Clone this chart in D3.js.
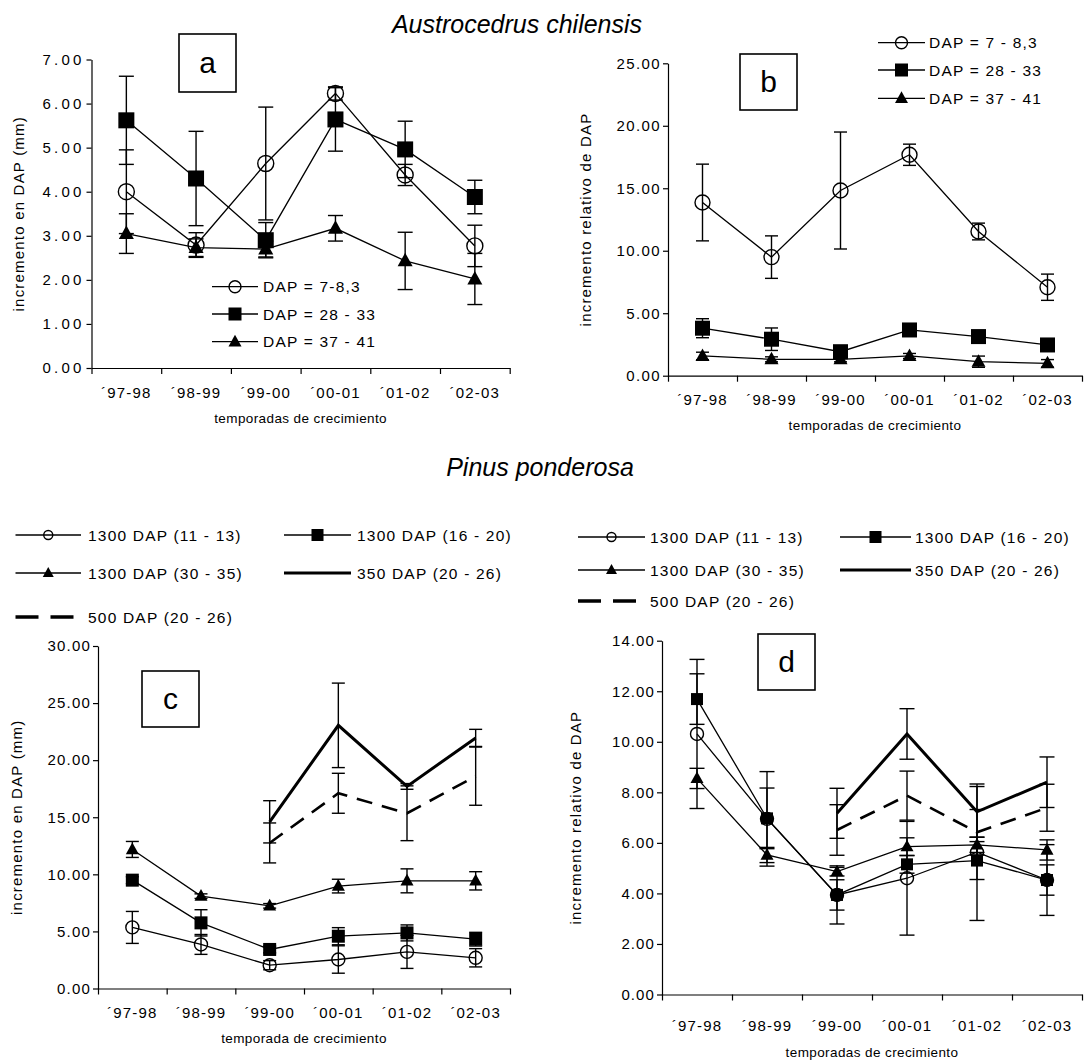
<!DOCTYPE html>
<html><head><meta charset="utf-8">
<script src="https://cdn.jsdelivr.net/npm/d3@7"></script>
<style>
body{margin:0;background:#fff}
svg{display:block}
text{font-family:"Liberation Sans",Arial,sans-serif;fill:#000}
</style>
</head><body>
<svg id="chart" width="1085" height="1061"></svg>
<script>
// ---------- DATA ----------
const categories = ["´97-98","´98-99","´99-00","´00-01","´01-02","´02-03"];

// Panel a : Austrocedrus, incremento en DAP (mm)
const aCircle = [4.00, 2.79, 4.64, 6.23, 4.38, 2.77];
const aCircleErr = [0.95, 0.28, 1.28, 0.15, 0.24, 0.47];
const aSquare = [5.62, 4.30, 2.90, 5.64, 4.96, 3.88];
const aSquareErr = [1.00, 1.07, 0.40, 0.72, 0.64, 0.38];
const aTri = [3.05, 2.73, 2.70, 3.17, 2.43, 2.02];
const aTriErr = [0.45, 0.20, 0.18, 0.29, 0.65, 0.58];

// Panel b : Austrocedrus, incremento relativo de DAP
const bCircle = [13.86, 9.49, 14.82, 17.68, 11.54, 7.08];
const bCircleErr = [3.07, 1.70, 4.68, 0.85, 0.67, 1.05];
const bSquare = [3.80, 2.92, 1.92, 3.66, 3.13, 2.46];
const bSquareErr = [0.76, 0.90, 0.30, 0.30, 0.30, 0.30];
const bTri = [1.58, 1.31, 1.31, 1.58, 1.12, 0.99];
const bTriErr = [0.30, 0.20, 0.20, 0.20, 0.45, 0.30];

// Panel c : Pinus, incremento en DAP (mm)
const cCircle = [5.35, 3.86, 2.04, 2.54, 3.21, 2.69];
const cCircleErr = [1.40, 0.87, 0.40, 1.20, 1.45, 0.80];
const cSquare = [9.49, 5.75, 3.42, 4.58, 4.87, 4.32];
const cSquareErr = [0.30, 1.15, 0.30, 0.75, 0.70, 0.60];
const cTri = [12.18, 8.09, 7.24, 8.97, 9.43, 9.43];
const cTriErr = [0.70, 0.20, 0.20, 0.60, 1.05, 0.80];
const c350 = [null, null, 14.60, 23.05, 17.70, 21.95];
const c350Err = [null, null, 1.85, 3.70, 0.25, 0.75];
const c500 = [null, null, 12.75, 17.10, 15.35, 18.60];
const c500Err = [null, null, 1.75, 1.75, 2.40, 2.55];

// Panel d : Pinus, incremento relativo de DAP
const dCircle = [10.31, 6.95, 3.94, 4.60, 5.63, 4.53];
const dCircleErr = [2.95, 1.87, 1.15, 2.25, 2.70, 1.40];
const dSquare = [11.69, 6.97, 3.94, 5.15, 5.30, 4.53];
const dSquareErr = [1.00, 1.20, 0.60, 0.35, 0.75, 0.60];
const dTri = [8.55, 5.52, 4.86, 5.85, 5.92, 5.72];
const dTriErr = [0.40, 0.30, 0.17, 0.35, 0.30, 0.40];
const d350 = [null, null, 7.17, 10.31, 7.23, 8.40];
const d350Err = [null, null, 0.99, 1.00, 1.00, 1.00];
const d500 = [null, null, 6.51, 7.87, 6.42, 7.39];
const d500Err = [null, null, 1.00, 0.97, 0.90, 0.93];

const aTicks = [0,1,2,3,4,5,6,7];
const bTicks = [0,5,10,15,20,25];
const cTicks = [0,5,10,15,20,25,30];
const dTicks = [0,2,4,6,8,10,12,14];

const austroLegend = [["DAP = 7-8,3","circle"],["DAP = 28 - 33","square"],["DAP = 37 - 41","triangle"]];
const austroLegendB = [["DAP = 7 - 8,3","circle"],["DAP = 28 - 33","square"],["DAP = 37 - 41","triangle"]];
const pinusLegend = [["1300 DAP (11 - 13)","circle"],["1300 DAP (16 - 20)","square"],
                     ["1300 DAP (30 - 35)","triangle"],["350 DAP (20 - 26)","thick"],
                     ["500 DAP (20 - 26)","dash"]];

// ---------- DRAW ----------
const svg = d3.select("#chart");
const fmt = d3.format(".2f");

function triPath(s){
  const h = s*0.9;
  return `M0,${-h*0.6}L${s/2},${h*0.4}L${-s/2},${h*0.4}Z`;
}
function drawMarker(g, type, cx, cy, sz){
  if(type==="circle"){
    g.append("circle").attr("cx",cx).attr("cy",cy).attr("r",sz.r)
      .attr("fill","none").attr("stroke","#000").attr("stroke-width",1.4);
  } else if(type==="square"){
    g.append("rect").attr("x",cx-sz.sq/2).attr("y",cy-sz.sq/2)
      .attr("width",sz.sq).attr("height",sz.sq).attr("fill","#000");
  } else if(type==="triangle"){
    g.append("path").attr("d",triPath(sz.tri)).attr("transform",`translate(${cx},${cy})`).attr("fill","#000");
  }
}

function panel(cfg){
  const g = svg.append("g");
  const x = d3.scaleBand().domain(categories).range([cfg.x0,cfg.x1]).padding(0);
  const xb = d3.scaleLinear().domain([0,categories.length]).range([cfg.x0,cfg.x1]);
  const y = d3.scaleLinear().domain([0,cfg.max]).range([cfg.y0,cfg.yTop]);
  const cx = c => x(c)+x.bandwidth()/2;

  // y axis
  const ya = g.append("g").attr("transform",`translate(${cfg.x0},0)`)
    .call(d3.axisLeft(y).tickValues(cfg.ticks).tickFormat(fmt).tickSize(5).tickSizeOuter(0));
  ya.select(".domain").attr("stroke","#000").attr("stroke-width",1.2);
  ya.selectAll(".tick line").attr("stroke","#000").attr("stroke-width",1.2);
  ya.selectAll(".tick text").attr("font-size",15).attr("letter-spacing",cfg.yls)
    .attr("x",-7).attr("font-family",'"Liberation Sans",Arial,sans-serif');

  // x axis: boundary ticks
  const xa = g.append("g").attr("transform",`translate(0,${cfg.y0})`)
    .call(d3.axisBottom(xb).tickValues(d3.range(0,categories.length+1)).tickFormat("").tickSize(6).tickSizeOuter(0));
  xa.select(".domain").attr("stroke","#000").attr("stroke-width",1.2);
  xa.selectAll(".tick line").attr("stroke","#000").attr("stroke-width",1.2);
  // category labels
  const xl = g.append("g").attr("transform",`translate(0,${cfg.y0})`)
    .call(d3.axisBottom(x).tickSize(0).tickPadding(cfg.labOff));
  xl.select(".domain").remove();
  xl.selectAll(".tick text").attr("font-size",15).attr("letter-spacing",1.2)
    .attr("font-family",'"Liberation Sans",Arial,sans-serif');

  // axis titles
  g.append("text").attr("x",(cfg.x0+cfg.x1)/2).attr("y",cfg.xTitleY)
    .attr("text-anchor","middle").attr("font-size",13.5).attr("letter-spacing",0.4)
    .text(cfg.xTitle);
  g.append("text").attr("transform",`translate(${cfg.yTitleX},${(cfg.y0+cfg.yTop)/2}) rotate(-90)`)
    .attr("text-anchor","middle").attr("font-size",15).attr("letter-spacing",1.2)
    .text(cfg.yTitle);

  // letter box
  g.append("rect").attr("x",cfg.box[0]).attr("y",cfg.box[1]).attr("width",cfg.box[2]).attr("height",cfg.box[3])
    .attr("fill","#fff").attr("stroke","#000").attr("stroke-width",1.6);
  g.append("text").attr("x",cfg.box[0]+cfg.box[2]/2).attr("y",cfg.box[1]+cfg.box[3]/2+10)
    .attr("text-anchor","middle").attr("font-size",30).text(cfg.letter);

  const sz = cfg.sz;
  cfg.series.forEach(s=>{
    const pts = categories.map((c,i)=>({c, v:s.vals[i], e:s.err[i]})).filter(p=>p.v!=null);
    // error bars
    pts.forEach(p=>{
      const eg = g.append("g").attr("stroke","#000").attr("stroke-width",1.4);
      eg.append("line").attr("x1",cx(p.c)).attr("x2",cx(p.c)).attr("y1",y(p.v-p.e)).attr("y2",y(p.v+p.e));
      [p.v-p.e,p.v+p.e].forEach(v=>eg.append("line").attr("x1",cx(p.c)-sz.cap).attr("x2",cx(p.c)+sz.cap)
        .attr("y1",y(v)).attr("y2",y(v)));
    });
    // line
    g.append("path").datum(pts)
      .attr("d",d3.line().x(p=>cx(p.c)).y(p=>y(p.v)))
      .attr("fill","none").attr("stroke","#000").attr("stroke-width",s.w||1.3)
      .attr("stroke-dasharray",s.dash||null);
    // markers
    if(s.marker) pts.forEach(p=>drawMarker(g,s.marker,cx(p.c),y(p.v),sz));
  });
}

function legend(items, rows, sz, fontSize){
  items.forEach(([label,type],i)=>{
    const r = rows[i];
    const g = svg.append("g");
    if(type==="dash"){
      g.append("line").attr("x1",r.x1).attr("x2",r.x2).attr("y1",r.y).attr("y2",r.y)
        .attr("stroke","#000").attr("stroke-width",3.5).attr("stroke-dasharray","23,12");
    } else {
      g.append("line").attr("x1",r.x1).attr("x2",r.x2).attr("y1",r.y).attr("y2",r.y)
        .attr("stroke","#000").attr("stroke-width",type==="thick"?3:1.3);
      if(type!=="thick") drawMarker(g,type,(r.x1+r.x2)/2,r.y,sz);
    }
    g.append("text").attr("x",r.tx).attr("y",r.y+5.5).attr("font-size",fontSize)
      .attr("letter-spacing",1.2).text(label);
  });
}

// titles
svg.append("text").attr("x",517).attr("y",33).attr("text-anchor","middle")
  .attr("font-size",25).attr("font-style","italic").text("Austrocedrus chilensis");
svg.append("text").attr("x",540).attr("y",476).attr("text-anchor","middle")
  .attr("font-size",25).attr("font-style","italic").text("Pinus ponderosa");

panel({x0:91.5,x1:509.7,y0:368,yTop:59.5,max:7,ticks:aTicks,labOff:19,yls:3.2,
  xTitle:"temporadas de crecimiento",xTitleY:423,yTitle:"incremento en DAP (mm)",yTitleX:24,
  box:[179,34,57,58],letter:"a",sz:{r:8,sq:16,tri:15,cap:7.5},
  series:[{vals:aCircle,err:aCircleErr,marker:"circle"},
          {vals:aSquare,err:aSquareErr,marker:"square"},
          {vals:aTri,err:aTriErr,marker:"triangle"}]});

panel({x0:668,x1:1082,y0:375.7,yTop:63.3,max:25,ticks:bTicks,labOff:19,yls:1.4,
  xTitle:"temporadas de crecimiento",xTitleY:430,yTitle:"incremento relativo de DAP",yTitleX:591,
  box:[740,54,57,56],letter:"b",sz:{r:7.5,sq:15,tri:14,cap:6.5},
  series:[{vals:bCircle,err:bCircleErr,marker:"circle"},
          {vals:bSquare,err:bSquareErr,marker:"square"},
          {vals:bTri,err:bTriErr,marker:"triangle"}]});

panel({x0:98,x1:510,y0:988.5,yTop:646,max:30,ticks:cTicks,labOff:19,yls:1.2,
  xTitle:"temporada de crecimiento",xTitleY:1043,yTitle:"incremento en DAP (mm)",yTitleX:22,
  box:[142,671,57,56],letter:"c",sz:{r:6.5,sq:13,tri:13,cap:6.5},
  series:[{vals:cCircle,err:cCircleErr,marker:"circle"},
          {vals:cSquare,err:cSquareErr,marker:"square"},
          {vals:cTri,err:cTriErr,marker:"triangle"},
          {vals:c350,err:c350Err,marker:null,w:3},
          {vals:c500,err:c500Err,marker:null,w:2.6,dash:"16,10"}]});

panel({x0:662,x1:1082,y0:994.5,yTop:640.7,max:14,ticks:dTicks,labOff:26,yls:1.1,
  xTitle:"temporadas de crecimiento",xTitleY:1057,yTitle:"incremento relativo de DAP",yTitleX:581,
  box:[758,634,57,56],letter:"d",sz:{r:6.5,sq:12,tri:13,cap:7.5},
  series:[{vals:dCircle,err:dCircleErr,marker:"circle"},
          {vals:dSquare,err:dSquareErr,marker:"square"},
          {vals:dTri,err:dTriErr,marker:"triangle"},
          {vals:d350,err:d350Err,marker:null,w:3},
          {vals:d500,err:d500Err,marker:null,w:2.6,dash:"16,10"}]});

// legends
legend(austroLegend,[{x1:212,x2:258,tx:263,y:286.7},{x1:212,x2:258,tx:263,y:314},{x1:212,x2:258,tx:263,y:341.7}],
  {r:6,sq:13,tri:13},15.5);
legend(austroLegendB,[{x1:878,x2:925,tx:929,y:42.7},{x1:878,x2:925,tx:929,y:70},{x1:878,x2:925,tx:929,y:98.3}],
  {r:6,sq:13,tri:13},15.5);
legend(pinusLegend,[{x1:15.5,x2:81,tx:88,y:535},{x1:284,x2:351,tx:357,y:535},
  {x1:15.5,x2:81,tx:88,y:573},{x1:284,x2:351,tx:357,y:573},{x1:15.5,x2:76,tx:88,y:617}],
  {r:4.5,sq:12,tri:11},15.5);
legend(pinusLegend,[{x1:578,x2:645,tx:650,y:537},{x1:840,x2:911,tx:915,y:537},
  {x1:578,x2:645,tx:650,y:570},{x1:840,x2:911,tx:915,y:570},{x1:578,x2:638,tx:650,y:601}],
  {r:4.5,sq:12,tri:11},15.5);
</script>
</body></html>
